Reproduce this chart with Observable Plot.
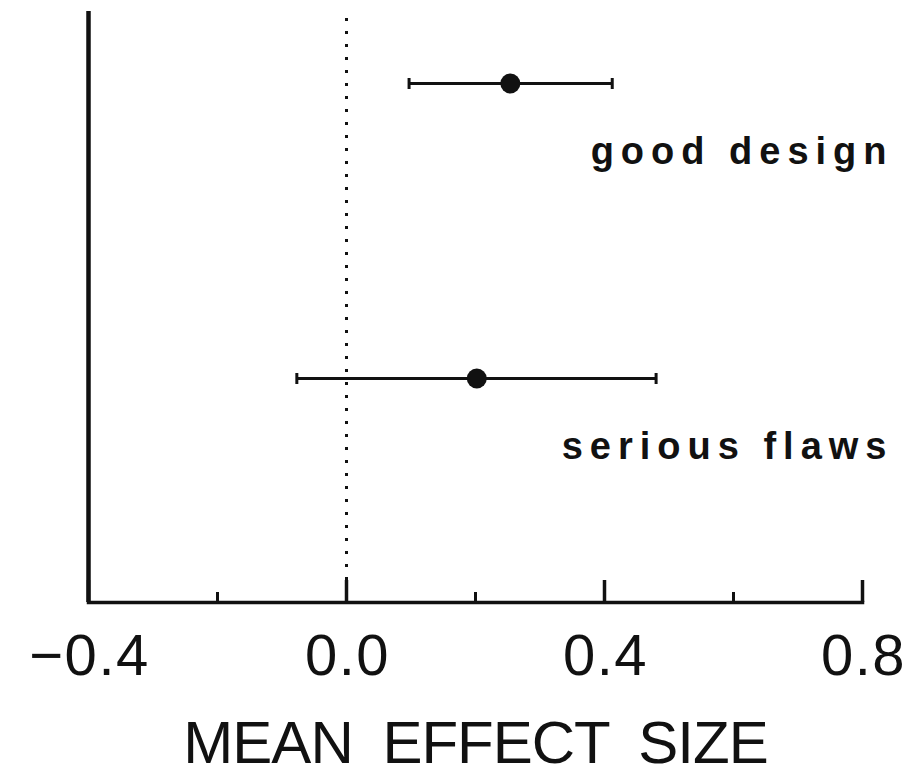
<!DOCTYPE html>
<html>
<head>
<meta charset="utf-8">
<script src="https://cdn.jsdelivr.net/npm/d3@7"></script>
<script src="https://cdn.jsdelivr.net/npm/@observablehq/plot@0.6"></script>
<style>
  html, body { margin: 0; padding: 0; background: #fff; }
  #chart svg { display: block; background: #fff; }
  g[font-size="38"] text { letter-spacing: 7px; }
  g[font-size="60"] text { letter-spacing: -1px; word-spacing: 14px; }
  g[font-size="58"] text { letter-spacing: 1.5px; }
</style>
</head>
<body>
<div id="chart"></div>
<script>
// Data
const groups = ["good design", "serious flaws"];
const means = [0.254, 0.202];
const lowers = [0.097, -0.077];
const uppers = [0.412, 0.480];
const majorTicks = [-0.4, 0.0, 0.4, 0.8];
const minorTicks = [-0.2, 0.2, 0.6];
const axisTitle = "MEAN EFFECT SIZE";

const rows = groups.map((g, i) => ({group: g, mean: means[i], lo: lowers[i], hi: uppers[i]}));
const ink = "#111";

// vertical-bar symbol for error-bar caps (half-length = r)
const capSymbol = {
  draw(context, size) {
    const h = Math.sqrt(size / Math.PI);
    context.moveTo(0, -h);
    context.lineTo(0, h);
  }
};

const plot = Plot.plot({
  width: 909,
  height: 774,
  marginLeft: 88,
  marginRight: 47,
  marginTop: 11,
  marginBottom: 172,
  style: {fontFamily: "'Liberation Sans', Arial, sans-serif", background: "#fff", color: ink},
  x: {domain: [-0.4, 0.8], label: null},
  y: {type: "point", domain: groups, padding: 0.5, align: 0.244, axis: null, label: null},
  marks: [
    // reference line at zero (dotted)
    Plot.ruleX([0], {stroke: ink, strokeWidth: 3, strokeDasharray: "3,10", insetTop: 7}),
    // left vertical axis line
    Plot.ruleX([-0.4], {stroke: ink, strokeWidth: 4.5}),
    // bottom axis line
    Plot.frame({anchor: "bottom", stroke: ink, strokeWidth: 3.5}),
    // ticks pointing upward
    Plot.axisX({ticks: majorTicks, tickSize: -22, tickFormat: () => "", stroke: ink, strokeWidth: 3.5, label: null}),
    Plot.axisX({ticks: minorTicks, tickSize: -10, tickFormat: () => "", stroke: ink, strokeWidth: 3, label: null}),
    // tick labels
    Plot.axisX({ticks: majorTicks, tickSize: 0, tickPadding: 31, tickFormat: d3.format(".1f"), fontSize: 58, fill: ink, label: null, dx: 1}),
    // error bars
    Plot.link(rows, {y1: "group", y2: "group", x1: "lo", x2: "hi", stroke: ink, strokeWidth: 3}),
    Plot.dot(rows, {y: "group", x: "lo", symbol: capSymbol, r: 5.5, stroke: ink, strokeWidth: 3, fill: "none"}),
    Plot.dot(rows, {y: "group", x: "hi", symbol: capSymbol, r: 5.5, stroke: ink, strokeWidth: 3, fill: "none"}),
    // means
    Plot.dot(rows, {y: "group", x: "mean", r: 10, fill: ink, stroke: null}),
    // group labels
    Plot.text(rows, {y: "group", x: () => 0.8, text: "group", textAnchor: "end", lineAnchor: "bottom", dx: 31, dy: 80, fontSize: 38, fontWeight: "bold", fill: ink}),
    // axis title
    Plot.text([axisTitle], {text: d => d, frameAnchor: "bottom", lineAnchor: "bottom", dy: 160, fontSize: 60, fill: ink})
  ]
});
document.getElementById("chart").appendChild(plot);
</script>
</body>
</html>
